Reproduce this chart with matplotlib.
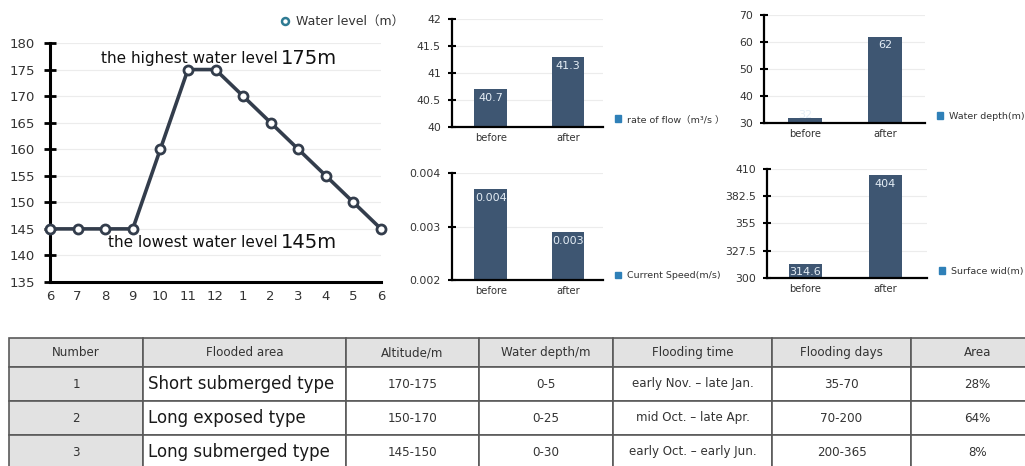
import numpy as np
import matplotlib.pyplot as plt
from matplotlib.patches import Patch
from matplotlib.lines import Line2D

# ---- data ----
months = ['6', '7', '8', '9', '10', '11', '12', '1', '2', '3', '4', '5', '6']
water_level = [145, 145, 145, 145, 160, 175, 175, 170, 165, 160, 155, 150, 145]

bar_cats = ['before', 'after']
flow_rate = [40.7, 41.3]
current_speed = [0.0037, 0.0029]
current_speed_labels = ['0.004', '0.003']
water_depth = [32, 62]
surface_width = [314.6, 404]

table_header = ['Number', 'Flooded area', 'Altitude/m', 'Water depth/m',
                'Flooding time', 'Flooding days', 'Area']
table_rows = [
    ['1', 'Short submerged type', '170-175', '0-5', 'early Nov. – late Jan.', '35-70', '28%'],
    ['2', 'Long exposed type', '150-170', '0-25', 'mid Oct. – late Apr.', '70-200', '64%'],
    ['3', 'Long submerged type', '145-150', '0-30', 'early Oct. – early Jun.', '200-365', '8%'],
]

W, H = 1025, 466
LINE_COL = '#333d4c'
BAR_COL = '#3e5672'
LEG_COL = '#2f80b8'
TXT = '#333333'
FONT = ['DejaVu Sans', 'Noto Sans CJK SC']

fig = plt.figure(figsize=(W / 100, H / 100), dpi=100)


def px_axes(l, t, r, b):
    return fig.add_axes([l / W, 1 - b / H, (r - l) / W, (b - t) / H])


def style_axes(ax, tick_len, tick_w, spine_w, fs, pad):
    for s in ['top', 'right']:
        ax.spines[s].set_visible(False)
    ax.spines['left'].set_linewidth(spine_w)
    ax.spines['bottom'].set_linewidth(spine_w)
    ax.tick_params(axis='y', direction='inout', length=tick_len, width=tick_w,
                   labelsize=fs, labelcolor=TXT, pad=pad)
    ax.tick_params(axis='x', length=0, labelcolor=TXT)
    ax.grid(axis='y', color='#ececec', linewidth=0.8)
    ax.set_axisbelow(True)


# ---- line chart ----
ax = px_axes(50, 43, 381, 282)
x = np.arange(len(months))
ax.plot(x, water_level, color=LINE_COL, linewidth=2.6, marker='o', markersize=6.5,
        markerfacecolor='white', markeredgecolor=LINE_COL, markeredgewidth=2, clip_on=False, zorder=3)
ax.set_xlim(0, len(months) - 1)
ax.set_ylim(135, 180)
ax.set_yticks(np.arange(135, 181, 5))
ax.set_xticks(x)
ax.set_xticklabels(months)
style_axes(ax, 8, 2, 2.2, 9.5, 7)
ax.tick_params(axis='x', labelsize=9.5, pad=6)

ax_w = 381 - 50
ax.text((278 - 50) / ax_w, (175 + 2.1 - 135) / 45, 'the highest water level',
        transform=ax.transAxes, ha='right', va='center', fontsize=11, color='#111111')
ax.text((281 - 50) / ax_w, (175 + 2.1 - 135) / 45, '175m',
        transform=ax.transAxes, ha='left', va='center', fontsize=14, color='#111111')
ax.text((278 - 50) / ax_w, (145 - 2.5 - 135) / 45, 'the lowest water level',
        transform=ax.transAxes, ha='right', va='center', fontsize=11, color='#111111')
ax.text((281 - 50) / ax_w, (145 - 2.5 - 135) / 45, '145m',
        transform=ax.transAxes, ha='left', va='center', fontsize=14, color='#111111')

leg_handle = Line2D([], [], color='none', marker='o', markersize=5, markerfacecolor='white',
                    markeredgecolor='#2f7b93', markeredgewidth=1.8)
ax.legend([leg_handle], ['Water level（m）'], loc='center left', bbox_to_anchor=(0.66, 1.09),
          frameon=False, handlelength=0.8, handletextpad=0.5, prop={'family': FONT, 'size': 9},
          labelcolor=TXT)


# ---- bar charts ----
def bar_chart(box, values, ylim, yticks, yticklabels, labels, legend_text, xlim, leg_y):
    a = px_axes(*box)
    bars = a.bar(range(len(bar_cats)), values, width=0.42, color=BAR_COL, zorder=2)
    a.set_xlim(*xlim)
    a.set_ylim(*ylim)
    a.set_yticks(yticks)
    a.set_yticklabels(yticklabels)
    a.set_xticks(range(len(bar_cats)))
    a.set_xticklabels(bar_cats)
    style_axes(a, 6, 1.5, 1.6, 7.8, 5)
    a.tick_params(axis='x', labelsize=7.2, pad=4)
    span = ylim[1] - ylim[0]
    for b, v, lab in zip(bars, values, labels):
        frac = (v - ylim[0]) / span
        if frac < 0.12:
            a.text(b.get_x() + b.get_width() / 2, v + span * 0.02, lab, ha='center', va='center',
                   fontsize=8, color='#e4edf5', zorder=3)
        else:
            a.text(b.get_x() + b.get_width() / 2, v - span * 0.035, lab, ha='center', va='top',
                   fontsize=8, color='#e4edf5', zorder=3)
    a.legend([Patch(color=LEG_COL)], [legend_text], loc='center left', bbox_to_anchor=(1.02, leg_y),
             frameon=False, handlelength=0.7, handleheight=0.7, handletextpad=0.6,
             prop={'family': FONT, 'size': 6.8}, labelcolor=TXT)
    return a


bar_chart((452, 19, 603, 127), flow_rate, (40, 42), [40, 40.5, 41, 41.5, 42],
          ['40', '40.5', '41', '41.5', '42'], ['40.7', '41.3'],
          'rate of flow（m³/s ）', (-0.5, 1.45), 0.07)
bar_chart((452, 173, 603, 280), current_speed, (0.002, 0.004), [0.002, 0.003, 0.004],
          ['0.002', '0.003', '0.004'], current_speed_labels,
          'Current Speed(m/s)', (-0.5, 1.45), 0.04)
bar_chart((764, 15, 925, 123), water_depth, (30, 70), [30, 40, 50, 60, 70],
          ['30', '40', '50', '60', '70'], ['32', '62'],
          'Water depth(m)', (-0.51, 1.5), 0.06)
bar_chart((767, 169, 927, 278), surface_width, (300, 410), [300, 327.5, 355, 382.5, 410],
          ['300', '327.5', '355', '382.5', '410'], ['314.6', '404'],
          'Surface wid(m)', (-0.48, 1.52), 0.06)

# ---- table ----
tax = fig.add_axes([0, 0, 1, 1])
tax.axis('off')
col_px = [9, 143, 346, 479, 613, 772, 911, 1044]
col_w = np.diff(col_px) / W
row_h_px = [29, 34, 34, 34]
top_px, bot_px = 338, 338 + sum(row_h_px)
tbl = tax.table(cellText=table_rows, colLabels=table_header, colWidths=list(col_w),
                cellLoc='center', bbox=[col_px[0] / W, 1 - bot_px / H,
                                        (col_px[-1] - col_px[0]) / W, sum(row_h_px) / H])
tbl.auto_set_font_size(False)
for (r, c), cell in tbl.get_celld().items():
    cell.set_height(row_h_px[r] / H)
    cell.set_edgecolor('#5a5a5a')
    cell.set_linewidth(1.2)
    cell.get_text().set_color(TXT)
    cell.get_text().set_fontsize(8.6)
    if r == 0 or c == 0:
        cell.set_facecolor('#e2e2e2')
    if r > 0 and c == 1:
        cell.get_text().set_fontsize(12)
        cell.get_text().set_color('#1a1a1a')
        cell.set_text_props(ha='left')
        cell.PAD = 0.025

fig.savefig('out.png', dpi=100)
